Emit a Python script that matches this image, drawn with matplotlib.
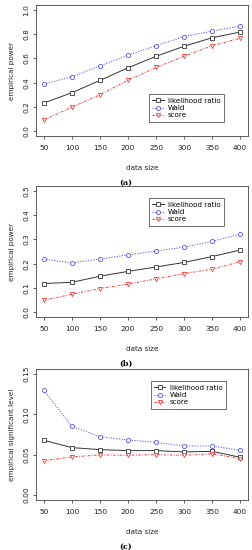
import matplotlib
matplotlib.use("Agg")
import matplotlib.pyplot as plt
from matplotlib.lines import Line2D

data_size = [50, 100, 150, 200, 250, 300, 350, 400]

lr_a = [0.232, 0.317, 0.418, 0.522, 0.617, 0.700, 0.770, 0.817]
wald_a = [0.388, 0.448, 0.538, 0.626, 0.705, 0.779, 0.825, 0.866]
score_a = [0.093, 0.197, 0.300, 0.420, 0.525, 0.617, 0.705, 0.765]

lr_b = [0.118, 0.123, 0.148, 0.168, 0.186, 0.205, 0.229, 0.256]
wald_b = [0.219, 0.203, 0.219, 0.236, 0.252, 0.268, 0.292, 0.321]
score_b = [0.049, 0.074, 0.097, 0.116, 0.137, 0.159, 0.177, 0.208]

lr_c = [0.0678, 0.0588, 0.0563, 0.0551, 0.0551, 0.0534, 0.0542, 0.0468]
wald_c = [0.1295, 0.0851, 0.0723, 0.0682, 0.0653, 0.0608, 0.0608, 0.0555]
score_c = [0.0427, 0.0473, 0.0497, 0.0493, 0.0501, 0.0493, 0.0510, 0.0452]

yticks_a = [0.0, 0.2, 0.4, 0.6, 0.8, 1.0]
yticks_b = [0.0, 0.1, 0.2, 0.3, 0.4, 0.5]
yticks_c = [0.00, 0.05, 0.10, 0.15]
ylabels = ["empirical power", "empirical power", "empirical significant level"]
captions = ["(a)", "(b)", "(c)"]
series_names = ["likelihood ratio", "Wald", "score"]

W, H = 253, 550
fig = plt.figure(figsize=(W / 100, H / 100), dpi=100)

BLACK = "#333333"
BLUE = "#5555e8"
RED = "#ee3b3b"
styles = [
    dict(color=BLACK, ls="-", marker="s"),
    dict(color=BLUE, ls=(0, (1.2, 1.5)), marker="o"),
    dict(color=RED, ls=(0, (2.5, 1.5, 1, 1.5)), marker="v"),
]

fs = 5.4


def px_axes(left, top, right, bottom):
    return fig.add_axes([left / W, 1 - bottom / H, (right - left) / W, (bottom - top) / H])


panels = [
    (5, (lr_a, wald_a, score_a), yticks_a, "%.1f", "lower right", (0.887, 0.107)),
    (186, (lr_b, wald_b, score_b), yticks_b, "%.1f", "upper right", (0.887, 0.908)),
    (369, (lr_c, wald_c, score_c), yticks_c, "%.2f", "upper right", (0.896, 0.908)),
]

for i, (top, series, yt, fmt, loc, bbox) in enumerate(panels):
    ax = px_axes(36, top, 248, top + 131)
    for vals, st in zip(series, styles):
        ax.plot(data_size, vals, color=st["color"], ls=st["ls"], lw=0.7,
                marker=st["marker"], ms=3.0, mfc="white", mec=st["color"], mew=0.6)
    lo, hi = yt[0], yt[-1]
    ext = 0.04 * (hi - lo)
    ax.set_ylim(lo - ext, hi + ext)
    ax.set_xlim(36, 414)
    ax.set_xticks(data_size)
    ax.set_xticklabels([str(v) for v in data_size])
    ax.set_yticks(yt)
    ax.set_yticklabels([fmt % v for v in yt], rotation=90, va="center")
    ax.tick_params(labelsize=fs, length=2.5, width=0.5, pad=2.5, colors="#222222")
    ax.tick_params(axis="x", pad=4.0)
    for s in ax.spines.values():
        s.set_linewidth(0.6)
        s.set_color("#444444")
    ax.set_ylabel(ylabels[i], fontsize=fs - 0.2, labelpad=6, color="#222222")
    ax.set_xlabel("data size", fontsize=fs - 0.2, labelpad=10, color="#222222")
    handles = [Line2D([0], [0], color=st["color"], ls=st["ls"], lw=0.7, marker=st["marker"],
                      ms=3.0, mfc="white", mec=st["color"], mew=0.6) for st in styles]
    leg = ax.legend(handles, series_names, loc=loc, bbox_to_anchor=bbox, fontsize=fs - 0.3,
                    frameon=True, fancybox=False, edgecolor="#555555", framealpha=1,
                    handlelength=1.6, handletextpad=0.6, borderpad=0.5, labelspacing=0.2,
                    borderaxespad=0.0, markerscale=1.0)
    leg.get_frame().set_linewidth(0.6)
    fig.text(126 / W, 1 - (top + 178) / H, captions[i], ha="center", va="center",
             fontsize=5.8, family="DejaVu Serif", fontweight="bold")

fig.savefig("out.png", dpi=100)
